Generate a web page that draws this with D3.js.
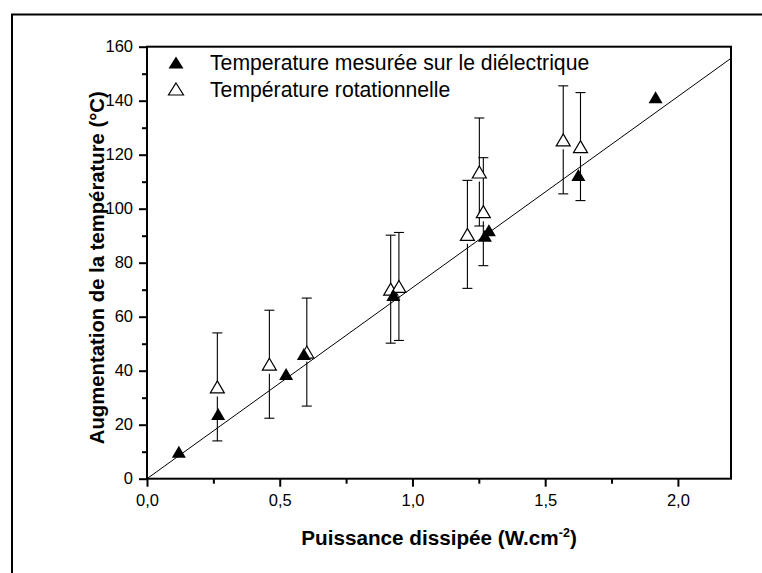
<!DOCTYPE html>
<html>
<head>
<meta charset="utf-8">
<script src="https://cdn.jsdelivr.net/npm/d3@7"></script>
<style>
  html, body { margin: 0; padding: 0; background: #fff; }
  svg { display: block; }
  text { font-family: "Liberation Sans", Arial, sans-serif; fill: #000; }
</style>
</head>
<body>
<svg id="chart" width="762" height="573"></svg>
<script>
// ---- data ----
const measuredX = [0.12, 0.268, 0.524, 0.591, 0.928, 1.273, 1.288, 1.625, 1.916];
const measuredY = [10, 24, 38.8, 46.2, 68, 90, 92, 112.5, 141.3];

const rotX = [0.265, 0.461, 0.602, 0.918, 0.949, 1.207, 1.252, 1.267, 1.568, 1.633];
const rotY = [34, 42.4, 46.9, 70.2, 71.2, 90.5, 113.6, 98.9, 125.5, 123];
const rotErr = [20, 20, 20, 20, 20, 20, 20, 20, 20, 20];

const fitX = [0, 2.2];
const fitY = [0, 155.7];

const xTicks = [0, 0.5, 1.0, 1.5, 2.0];
const xTickLabels = ["0,0", "0,5", "1,0", "1,5", "2,0"];
const xMinorTicks = [0.25, 0.75, 1.25, 1.75];
const yTicks = [0, 20, 40, 60, 80, 100, 120, 140, 160];
const yMinorTicks = [10, 30, 50, 70, 90, 110, 130, 150];

const legendLabels = ["Temperature mesurée sur le diélectrique", "Température rotationnelle"];
const xTitle = "Puissance dissipée (W.cm";
const xTitleSup = "-2";
const yTitle = "Augmentation de la température (°C)";

// ---- layout ----
const svg = d3.select("#chart");
const L = 147, R = 731, T = 46.7, B = 478.7;
const x = d3.scaleLinear().domain([0, 2.2]).range([L, R]);
const y = d3.scaleLinear().domain([0, 160]).range([B, T]);

// outer frame (only top and left visible)
svg.append("path")
  .attr("d", `M12,${573 + 10} L12,14.5 L${762 + 10},14.5`)
  .attr("fill", "none").attr("stroke", "#000").attr("stroke-width", 2);

// triangle path centered on its bounding box
const triW = 14, triH = 12;
function tri(cx, cy, w = triW, h = triH) {
  return `M${cx},${cy - h / 2} L${cx + w / 2},${cy + h / 2} L${cx - w / 2},${cy + h / 2} Z`;
}

// fit line
svg.append("line")
  .attr("x1", x(fitX[0])).attr("y1", y(fitY[0]))
  .attr("x2", x(fitX[1])).attr("y2", y(fitY[1]))
  .attr("stroke", "#000").attr("stroke-width", 1);

// error bars (rotational temperature)
const errG = svg.append("g").attr("stroke", "#000").attr("stroke-width", 1.1);
rotX.forEach((xv, i) => {
  const cx = x(xv), cy = y(rotY[i]);
  const yHi = y(rotY[i] + rotErr[i]), yLo = y(rotY[i] - rotErr[i]);
  errG.append("line").attr("x1", cx).attr("x2", cx).attr("y1", yHi).attr("y2", cy);
  errG.append("line").attr("x1", cx).attr("x2", cx).attr("y1", cy + 9.5).attr("y2", yLo);
  errG.append("line").attr("x1", cx - 5).attr("x2", cx + 5).attr("y1", yHi).attr("y2", yHi);
  errG.append("line").attr("x1", cx - 5).attr("x2", cx + 5).attr("y1", yLo).attr("y2", yLo);
});

// open triangles
svg.append("g").selectAll("path").data(rotX).join("path")
  .attr("d", (d, i) => tri(x(d), y(rotY[i])))
  .attr("fill", "#fff").attr("stroke", "#000").attr("stroke-width", 1.2);

// filled triangles
svg.append("g").selectAll("path").data(measuredX).join("path")
  .attr("d", (d, i) => tri(x(d), y(measuredY[i])))
  .attr("fill", "#000").attr("stroke", "none");

// axes
const fs = 16.5;
const xAxis = svg.append("g").attr("transform", `translate(0,${B})`)
  .call(d3.axisBottom(x).tickValues(xTicks).tickSize(8).tickPadding(8)
    .tickFormat((d, i) => xTickLabels[i]));
const xMinor = svg.append("g").attr("transform", `translate(0,${B})`)
  .call(d3.axisBottom(x).tickValues(xMinorTicks).tickSize(5).tickFormat(""));
const yAxis = svg.append("g").attr("transform", `translate(${L},0)`)
  .call(d3.axisLeft(y).tickValues(yTicks).tickSize(8).tickPadding(6));
const yMinor = svg.append("g").attr("transform", `translate(${L},0)`)
  .call(d3.axisLeft(y).tickValues(yMinorTicks).tickSize(5).tickFormat(""));
[xAxis, xMinor, yAxis, yMinor].forEach(g => {
  g.select(".domain").remove();
  g.selectAll("line").attr("stroke", "#000").attr("stroke-width", 2);
  g.selectAll("text").style("font-size", fs + "px").style("font-family", '"Liberation Sans", Arial, sans-serif').attr("fill", "#000");
});

// plot frame
svg.append("rect")
  .attr("x", L).attr("y", T).attr("width", R - L).attr("height", B - T)
  .attr("fill", "none").attr("stroke", "#000").attr("stroke-width", 2);

// legend
const legRows = [62.5, 89];
svg.append("path").attr("d", tri(176, legRows[0], 15, 12)).attr("fill", "#000");
svg.append("path").attr("d", tri(176, legRows[1], 15, 12)).attr("fill", "#fff").attr("stroke", "#000").attr("stroke-width", 1.2);
legendLabels.forEach((t, i) => {
  svg.append("text").attr("x", 210).attr("y", legRows[i] + 7.8)
    .style("font-size", "21.2px").text(t);
});

// axis titles
const xt = svg.append("text").attr("x", (L + R) / 2).attr("y", 545)
  .attr("text-anchor", "middle").style("font-size", "20.7px").style("font-weight", "bold");
xt.append("tspan").text(xTitle);
xt.append("tspan").attr("dy", -8).style("font-size", "12.5px").text(xTitleSup);
xt.append("tspan").attr("dy", 8).text(")");

svg.append("text")
  .attr("transform", `translate(104,${(T + B) / 2 + 5}) rotate(-90)`)
  .attr("text-anchor", "middle").style("font-size", "20.3px").style("font-weight", "bold")
  .text(yTitle);
</script>
</body>
</html>
